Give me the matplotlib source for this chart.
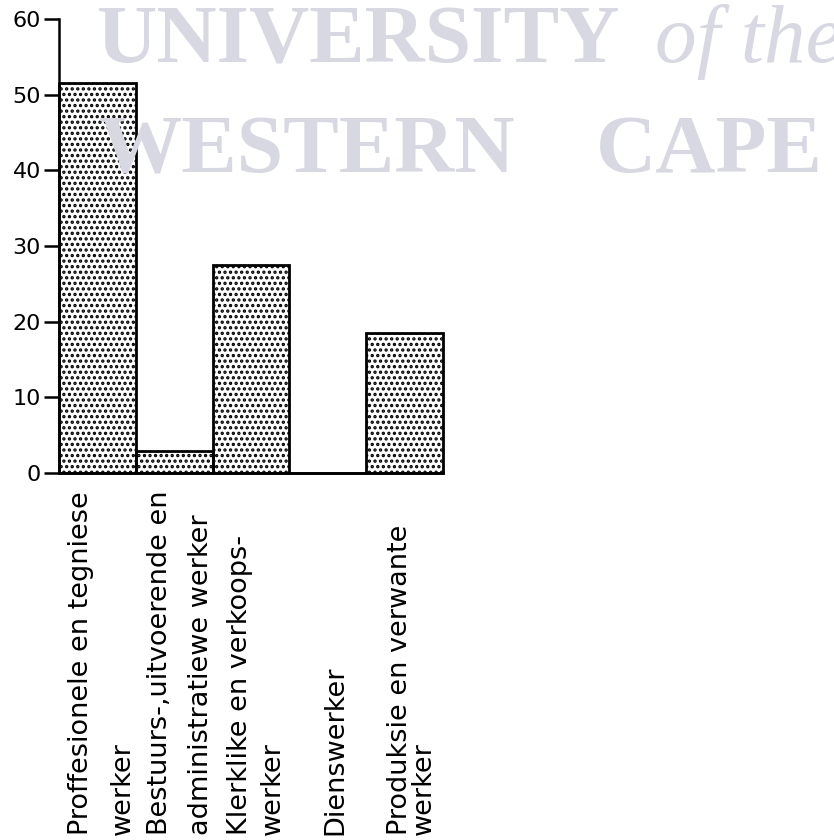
import matplotlib
matplotlib.use('Agg')
import matplotlib.pyplot as plt
import matplotlib.transforms as mtransforms

# beroepsgroepe en persentasies
categories = ['Proffesionele en tegniese\nwerker',
              'Bestuurs-,uitvoerende en\nadministratiewe werker',
              'Klerklike en verkoops-\nwerker',
              'Dienswerker',
              'Produksie en verwante\nwerker']
values = [51.5, 2.9, 27.5, 0, 18.5]
yticks = [0, 10, 20, 30, 40, 50, 60]

plt.rcParams['hatch.linewidth'] = 1.6
fig = plt.figure(figsize=(8.34, 8.40), dpi=100)
ax = fig.add_axes([0.0707, 0.4369, 0.4604, 0.5405])

# watermerk agter die grafiek
wm_col = '#d7d8e1'
wm = dict(color=wm_col, family='Liberation Serif', fontweight='bold',
          fontsize=60, zorder=0, va='baseline')
fig.text(0.116, 0.926, 'UNIVERSITY', **wm)
fig.text(0.785, 0.926, 'of the', color=wm_col, family='Liberation Serif',
         style='italic', fontsize=60, zorder=0, va='baseline')
fig.text(0.118, 0.795, 'WESTERN', **wm)
fig.text(0.715, 0.795, 'CAPE', **wm)

x = range(len(values))
bars = ax.bar(x, values, width=1.0, facecolor='none', edgecolor='black',
              linewidth=2.0, hatch='...', zorder=3)
for b in bars:
    b.set_clip_on(False)

ax.set_xlim(-0.5, 4.5)
ax.set_ylim(0, 60)
ax.set_yticks(yticks)
ax.set_xticks([])
ax.patch.set_alpha(0)
for s in ['top', 'right']:
    ax.spines[s].set_visible(False)
for s in ['left', 'bottom']:
    ax.spines[s].set_linewidth(1.8)
ax.tick_params(axis='y', direction='out', length=11, width=1.8,
               labelsize=16, pad=2)

# etikette onder die stawe, elke reel apart geplaas
line_x = [[-0.12, 0.42], [0.91, 1.44], [1.95, 2.38], [3.19], [4.03, 4.34]]
trans = mtransforms.blended_transform_factory(ax.transData, fig.transFigure)
for cat, xs in zip(categories, line_x):
    for line, lx in zip(cat.split('\n'), xs):
        ax.text(lx, 0.006, line, transform=trans, rotation=90,
                rotation_mode='anchor', ha='left', va='baseline',
                fontsize=19.5, clip_on=False)

fig.savefig('out.png', dpi=100)
